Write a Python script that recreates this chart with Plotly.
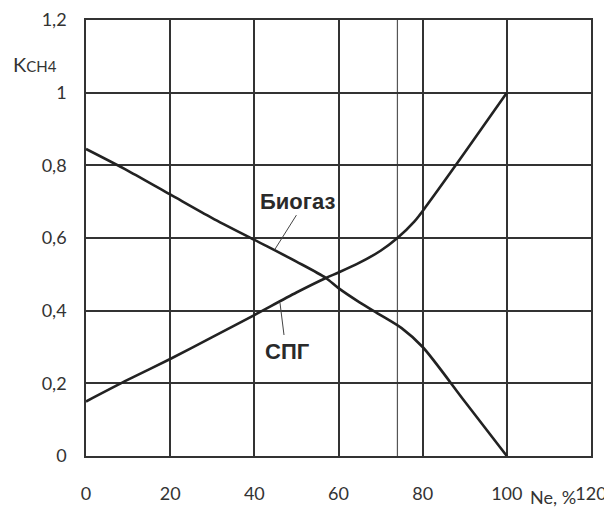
import plotly.graph_objects as go

# Data
biogas_x = [0, 10, 20, 30, 40, 50, 57, 60, 65, 70, 75, 80, 90, 100]
biogas_y = [0.845, 0.785, 0.72, 0.655, 0.595, 0.535, 0.49, 0.462, 0.423, 0.388, 0.352, 0.30, 0.15, 0.0]

spg_x = [0, 10, 20, 30, 40, 50, 57, 60, 65, 70, 74, 78, 81, 90, 100]
spg_y = [0.15, 0.21, 0.267, 0.327, 0.388, 0.45, 0.49, 0.505, 0.532, 0.565, 0.60, 0.645, 0.69, 0.835, 1.0]

x_ticks = [0, 20, 40, 60, 80, 100, 120]
y_ticks = [0, 0.2, 0.4, 0.6, 0.8, 1.0, 1.2]
y_tick_labels = ["0", "0,2", "0,4", "0,6", "0,8", "1", "1,2"]
extra_vlines = [74]

label_biogas = dict(text="Биогаз", x=50.3, y=0.70, ax=50.0, ay=0.663, bx=44.9, by=0.569)
label_spg = dict(text="СПГ", x=47.8, y=0.287, ax=46.1, ay=0.421, bx=47.05, by=0.333)

line_col = "#222222"
grid_col = "#333333"
tick_font = dict(family="Lato", size=18, color="#333333")

fig = go.Figure()
fig.add_trace(go.Scatter(x=biogas_x, y=biogas_y, mode="lines", line=dict(color=line_col, width=2.6, shape="spline", smoothing=0.8), showlegend=False, hoverinfo="skip"))
fig.add_trace(go.Scatter(x=spg_x, y=spg_y, mode="lines", line=dict(color=line_col, width=2.6, shape="spline", smoothing=0.8), showlegend=False, hoverinfo="skip"))

for lab in (label_biogas, label_spg):
    fig.add_trace(go.Scatter(x=[lab["ax"], lab["bx"]], y=[lab["ay"], lab["by"]], mode="lines",
                             line=dict(color="#444444", width=1), showlegend=False, hoverinfo="skip"))
    fig.add_annotation(x=lab["x"], y=lab["y"], xref="x", yref="y", text="<b>" + lab["text"] + "</b>",
                       showarrow=False, font=dict(family="Liberation Sans", size=22, color="#2a2a2a"))

for vx in extra_vlines:
    fig.add_shape(type="line", xref="x", yref="y", x0=vx, x1=vx, y0=0, y1=1.2,
                  line=dict(color="#555555", width=1.2), layer="below")

fig.add_annotation(xref="paper", yref="paper", x=-0.101, y=0.9, xanchor="center", yanchor="middle",
                   text="K<span style='font-size:15px'>CH4</span>", showarrow=False,
                   font=dict(family="Lato", size=20, color="#333333"))
fig.add_annotation(xref="paper", yref="paper", x=0.925, y=-0.094, xanchor="center", yanchor="middle",
                   text="Ne, %", showarrow=False, font=dict(family="Lato", size=18, color="#333333"))

fig.update_xaxes(range=[0, 120], tickvals=x_ticks, ticktext=[str(v) for v in x_ticks],
                 showgrid=True, gridcolor=grid_col, gridwidth=1.5, zeroline=False,
                 showline=True, linecolor=grid_col, linewidth=1.5, mirror=True,
                 ticks="", tickfont=tick_font, ticklabelstandoff=21, automargin=False)
fig.update_yaxes(range=[0, 1.2], tickvals=y_ticks, ticktext=y_tick_labels,
                 showgrid=True, gridcolor=grid_col, gridwidth=1.5, zeroline=False,
                 showline=True, linecolor=grid_col, linewidth=1.5, mirror=True,
                 ticks="", tickfont=tick_font, ticklabelstandoff=14, automargin=False)

# page body has an 8px margin, so offsets compensate for it
fig.update_layout(width=612, height=510, margin=dict(l=78, r=29, t=12, b=62, autoexpand=False),
                  paper_bgcolor="white", plot_bgcolor="white")

fig.write_html("out.html")
